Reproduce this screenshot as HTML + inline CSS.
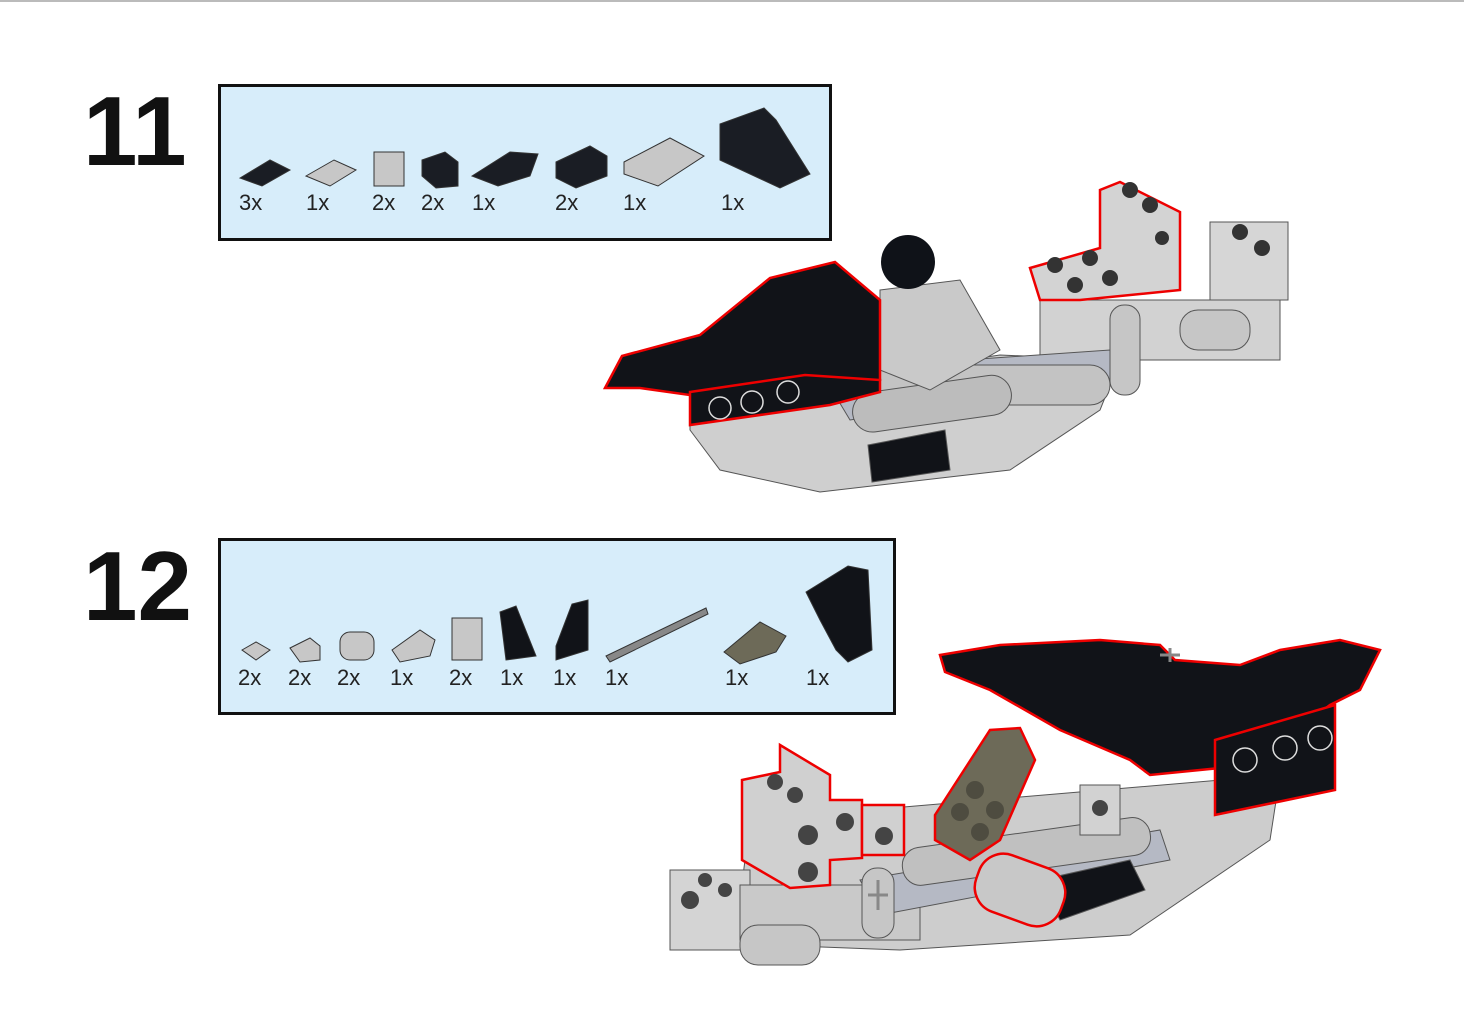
<!DOCTYPE html>
<html><head><meta charset="utf-8"><style>
html,body{margin:0;padding:0;background:#fff;}
svg{display:block;}
text{font-family:"Liberation Sans",sans-serif;}
</style></head><body>
<svg width="1464" height="1010" viewBox="0 0 1464 1010" xmlns="http://www.w3.org/2000/svg">
<rect x="0" y="0" width="1464" height="1010" fill="#fff"/>
<line x1="0" y1="1" x2="1464" y2="1" stroke="#bbb" stroke-width="2"/>

<text x="83" y="165" font-size="98" font-weight="bold" fill="#111">11</text>
<text x="83" y="620" font-size="98" font-weight="bold" fill="#111">12</text>

<rect x="219.5" y="85.5" width="611" height="154" fill="#d7edfa" stroke="#111" stroke-width="3"/>
<rect x="219.5" y="539.5" width="675" height="174" fill="#d7edfa" stroke="#111" stroke-width="3"/>

<!-- step 11 parts -->
<g stroke="#333" stroke-width="1">
<polygon points="240,178 270,160 290,170 262,186" fill="#1a1d24"/>
<polygon points="306,176 334,160 356,170 330,186" fill="#c7c7c7"/>
<rect x="374" y="152" width="30" height="34" fill="#c7c7c7"/>
<polygon points="422,160 445,152 458,162 458,186 436,188 422,176" fill="#1a1d24"/>
<polygon points="472,176 510,152 538,154 530,176 498,186" fill="#1a1d24"/>
<polygon points="556,162 590,146 607,156 607,176 576,188 556,178" fill="#1a1d24"/>
<polygon points="624,162 670,138 704,156 658,186 624,174" fill="#c7c7c7"/>
<polygon points="720,124 764,108 776,120 810,174 780,188 720,160" fill="#1a1d24"/>
</g>
<g font-size="22" fill="#222">
<text x="239" y="210">3x</text><text x="306" y="210">1x</text><text x="372" y="210">2x</text>
<text x="421" y="210">2x</text><text x="472" y="210">1x</text><text x="555" y="210">2x</text>
<text x="623" y="210">1x</text><text x="721" y="210">1x</text>
</g>

<!-- step 12 parts -->
<g stroke="#333" stroke-width="1">
<polygon points="242,650 256,642 270,650 256,660" fill="#c7c7c7"/>
<polygon points="290,648 310,638 320,646 320,660 300,662" fill="#c7c7c7"/>
<rect x="340" y="632" width="34" height="28" rx="10" fill="#c7c7c7"/>
<polygon points="392,650 420,630 435,640 430,656 400,662" fill="#c7c7c7"/>
<rect x="452" y="618" width="30" height="42" fill="#c7c7c7"/>
<polygon points="500,612 516,606 536,656 506,660" fill="#111318"/>
<polygon points="556,646 572,604 588,600 588,650 556,660" fill="#111318"/>
<polygon points="606,656 706,608 708,614 610,662" fill="#888"/>
<polygon points="724,652 760,622 786,636 776,652 740,664" fill="#6d6a58"/>
<polygon points="806,592 848,566 868,570 872,650 848,662 836,650 820,620" fill="#111318"/>
</g>
<g font-size="22" fill="#222">
<text x="238" y="685">2x</text><text x="288" y="685">2x</text><text x="337" y="685">2x</text>
<text x="390" y="685">1x</text><text x="449" y="685">2x</text><text x="500" y="685">1x</text>
<text x="553" y="685">1x</text><text x="605" y="685">1x</text><text x="725" y="685">1x</text><text x="806" y="685">1x</text>
</g>

<!-- model 11 -->
<g stroke="#555" stroke-width="1">
<polygon points="690,400 1000,355 1120,360 1100,410 1010,470 820,492 720,470 690,430" fill="#cfcfcf"/>
<rect x="1040" y="300" width="240" height="60" fill="#d2d2d2"/>
<rect x="1210" y="222" width="78" height="78" fill="#d6d6d6"/>
<polygon points="820,370 1110,350 1120,380 850,420" fill="#b5b9c4"/>
<rect x="860" y="365" width="250" height="40" rx="20" fill="#c3c3c3"/>
<rect x="850" y="395" width="160" height="40" rx="20" fill="#bcbcbc" transform="rotate(-8 850 395)"/>
<polygon points="880,290 960,280 1000,350 930,390 880,370" fill="#c9c9c9"/>
<polygon points="868,445 945,430 950,470 872,482" fill="#111318"/>
<rect x="1110" y="305" width="30" height="90" rx="14" fill="#c6c6c6"/>
<rect x="1180" y="310" width="70" height="40" rx="18" fill="#c6c6c6"/>
</g>
<circle cx="908" cy="262" r="27" fill="#0f1218"/>
<g stroke="#e00" stroke-width="2.5">
<polygon points="605,388 622,356 700,335 770,278 835,262 880,300 880,380 810,400 790,395 700,410 690,395 640,388" fill="#111318"/>
<polygon points="690,392 805,375 880,380 880,392 830,405 690,425" fill="#111318"/>
<polygon points="1030,268 1100,248 1100,190 1120,182 1180,212 1180,290 1080,300 1040,300" fill="#d3d3d3"/>
</g>
<g fill="#333"><circle cx="1130" cy="190" r="8"/><circle cx="1150" cy="205" r="8"/><circle cx="1055" cy="265" r="8"/><circle cx="1090" cy="258" r="8"/><circle cx="1075" cy="285" r="8"/><circle cx="1110" cy="278" r="8"/><circle cx="1240" cy="232" r="8"/><circle cx="1262" cy="248" r="8"/><circle cx="1162" cy="238" r="7"/></g>
<g fill="none" stroke="#ddd" stroke-width="1.5">
<circle cx="720" cy="408" r="11"/><circle cx="752" cy="402" r="11"/><circle cx="788" cy="392" r="11"/>
</g>

<!-- model 12 -->
<g stroke="#555" stroke-width="1">
<polygon points="750,820 1280,775 1270,840 1130,935 900,950 770,945 740,900" fill="#cdcdcd"/>
<rect x="670" y="870" width="80" height="80" fill="#d4d4d4"/>
<rect x="740" y="885" width="180" height="55" fill="#c9c9c9"/>
<polygon points="860,880 1160,830 1170,860 880,915" fill="#b5b9c4"/>
<rect x="900" y="850" width="250" height="38" rx="18" fill="#c0c0c0" transform="rotate(-8 900 850)"/>
<polygon points="1040,880 1130,860 1145,890 1060,920" fill="#111318"/>
<rect x="862" y="868" width="32" height="70" rx="15" fill="#c6c6c6"/>
<rect x="740" y="925" width="80" height="40" rx="18" fill="#c6c6c6"/>
<rect x="1080" y="785" width="40" height="50" fill="#d2d2d2"/>
</g>
<g stroke="#e00" stroke-width="2.5">
<polygon points="940,655 1000,645 1100,640 1160,645 1175,660 1240,665 1280,650 1340,640 1380,650 1360,690 1330,705 1250,765 1150,775 1130,760 1060,730 990,690 945,672" fill="#111318"/>
<polygon points="1215,740 1335,705 1335,790 1215,815" fill="#111318"/>
<polygon points="742,780 780,772 780,745 830,775 830,800 862,800 862,858 830,860 830,885 790,888 742,860" fill="#d0d0d0"/>
<rect x="862" y="805" width="42" height="50" fill="#d0d0d0"/>
<polygon points="935,815 990,730 1020,728 1035,760 1000,840 970,860 935,840" fill="#6d6a58"/>
<rect x="975" y="860" width="90" height="60" rx="26" fill="#c8c8c8" transform="rotate(20 1020 890)"/>
</g>
<g fill="none" stroke="#ddd" stroke-width="1.5">
<circle cx="1245" cy="760" r="12"/><circle cx="1285" cy="748" r="12"/><circle cx="1320" cy="738" r="12"/>
</g>
<g fill="#444"><circle cx="775" cy="782" r="8"/><circle cx="795" cy="795" r="8"/><circle cx="808" cy="835" r="10"/><circle cx="808" cy="872" r="10"/><circle cx="845" cy="822" r="9"/><circle cx="884" cy="836" r="9"/><circle cx="690" cy="900" r="9"/><circle cx="705" cy="880" r="7"/><circle cx="725" cy="890" r="7"/><circle cx="1100" cy="808" r="8"/></g>
<g fill="#4e4c40"><circle cx="975" cy="790" r="9"/><circle cx="995" cy="810" r="9"/><circle cx="960" cy="812" r="9"/><circle cx="980" cy="832" r="9"/></g>
<g stroke="#888" stroke-width="3" fill="none"><path d="M878 880v30M868 895h20M1160 655h20M1170 648v14"/></g>
</svg>
</body></html>
